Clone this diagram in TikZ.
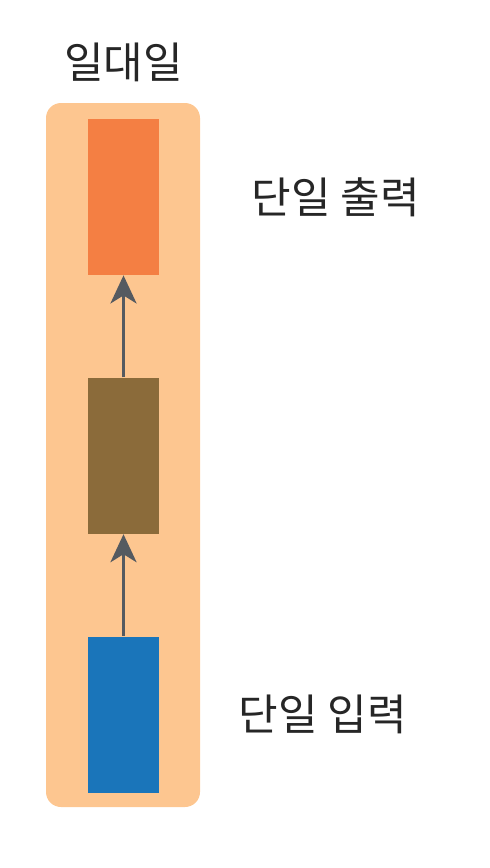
\documentclass[tikz,border=0pt]{standalone}
\usepackage{fontspec}
\setmainfont{Noto Sans CJK KR}
\usepackage{tikz}
\usetikzlibrary{arrows.meta,positioning}
\definecolor{bgpeach}{HTML}{FDC690}
\definecolor{outorange}{HTML}{F47F43}
\definecolor{hidbrown}{HTML}{8B6B3A}
\definecolor{inblue}{HTML}{1A75BA}
\definecolor{arrgray}{HTML}{555A60}
\tikzstyle{cell} = [rectangle, minimum width=35.5pt, minimum height=78pt, inner sep=0pt, draw=none]
\tikzstyle{tag} = [inner sep=0pt, font=\fontsize{21.5pt}{26pt}\selectfont, text=black!85]
\tikzstyle{arrow} = [line width=1.7pt, draw=arrgray, -{Stealth[length=14pt,width=13pt,inset=4pt]}]

\begin{document}
\begin{tikzpicture}[x=0.5pt, y=-0.5pt, node distance=51pt]

\useasboundingbox (0,0) rectangle (490,868);
\fill [bgpeach, rounded corners=7.5pt] (46,103) rectangle (200,807);

\node(out)      [cell, fill=outorange] at (123.5,197) {};
\node(hidden)   [cell, fill=hidbrown, below=of out] {};
\node(in)       [cell, fill=inblue, below=of hidden] {};

\node(title)    [tag] at (123.5,62)        {일대일};
\node(outlabel) [tag, right=46pt of out]   {단일 출력};
\node(inlabel)  [tag, right=39.5pt of in]  {단일 입력};

\draw [arrow] (in)     -- (hidden);
\draw [arrow] (hidden) -- (out);

\end{tikzpicture}
\end{document}
